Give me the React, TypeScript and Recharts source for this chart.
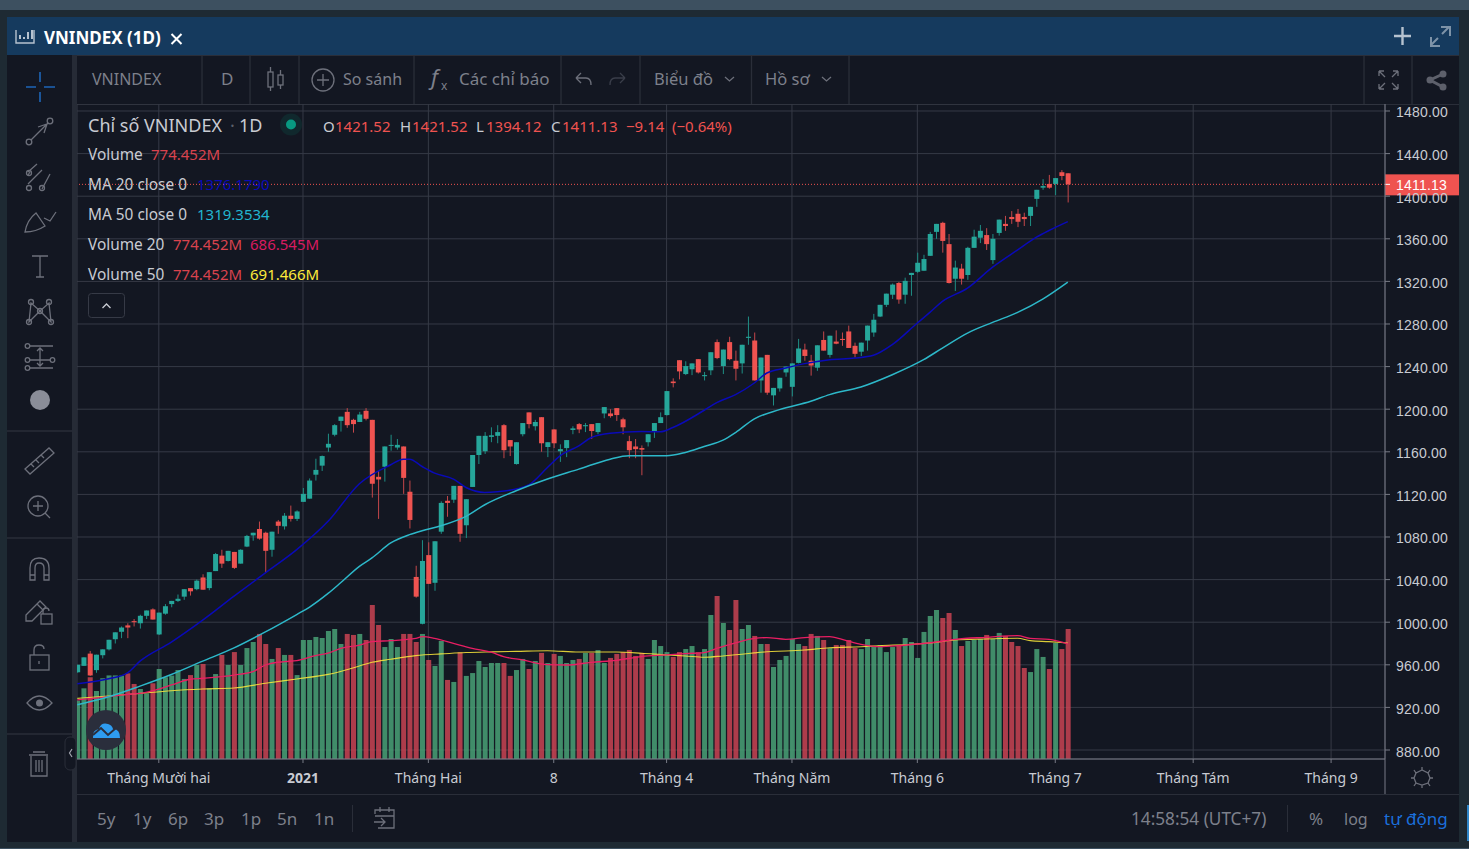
import React from 'react';
import {
  Bar,
  CartesianGrid,
  Cell,
  ComposedChart,
  Line,
  ReferenceLine,
  XAxis,
  YAxis,
} from 'recharts';

const UP = '#26a69a';
const DOWN = '#ef5350';
const UP_WICK = '#1f8f85';
const DOWN_WICK = '#c4474a';
const BG = '#131722';
const GRID = '#363a46';
const AXIS = '#787b86';
const MUTED = '#7d808b';
const LABEL = '#c8cbd2';
const FONT = '"Noto Sans", sans-serif';

const opens = [
  953, 959, 970.5, 955, 969, 974.5, 984, 991, 997, 1001,
  999, 1006, 1012, 988.5, 1008, 1017, 1020, 1024, 1032, 1031,
  1042, 1032, 1048, 1062.5, 1057.5, 1066, 1055, 1071, 1081.5, 1087.5,
  1084, 1068, 1094.5, 1090, 1100, 1097, 1113, 1116, 1138.5, 1147,
  1164, 1176, 1189, 1197.5, 1190, 1188, 1198.5, 1190, 1136.5, 1146,
  1166, 1164, 1165, 1122.5, 1042.5, 998.5, 1063, 1037, 1085, 1114,
  1115, 1128, 1091, 1127, 1157, 1160.5, 1174, 1175, 1185, 1171,
  1148.5, 1176.5, 1197, 1184, 1192.5, 1164.5, 1181, 1160.5, 1163.5, 1180.5,
  1186, 1184, 1186, 1178.5, 1196, 1196, 1201, 1190.5, 1170, 1165,
  1163.5, 1169, 1179.5, 1187, 1194.5, 1226, 1246, 1233, 1237.5, 1247,
  1231, 1236.5, 1263, 1240.5, 1263, 1245.5, 1243, 1267, 1264.5, 1227,
  1251, 1213, 1219.5, 1234.5, 1221, 1243.5, 1256, 1245.5, 1239, 1265,
  1251, 1263.5, 1266, 1273, 1259.5, 1254, 1264.5, 1272, 1287, 1298,
  1307.5, 1318.5, 1307.5, 1326, 1329, 1330, 1344, 1366.5, 1375, 1355,
  1322.5, 1332, 1326, 1351.5, 1361, 1363.5, 1340, 1365.5, 1374, 1380.5,
  1383.5, 1380.5, 1381.5, 1397.5, 1408, 1411.5, 1411.5, 1422.5, 1421.52,
];

const highs = [
  960, 967, 973, 969.5, 974.5, 983.5, 990.5, 996, 999, 1003,
  1007, 1011, 1013, 1009, 1017, 1020, 1026, 1031, 1032, 1040,
  1045, 1047, 1065, 1068, 1067, 1066, 1068.5, 1082, 1084, 1094.5,
  1085, 1085, 1096, 1102.5, 1109.5, 1105, 1126, 1135, 1153.5, 1156.5,
  1177, 1186, 1193, 1201, 1191, 1197.5, 1201, 1190, 1142, 1165,
  1176, 1172, 1165, 1133, 1053, 1077, 1075, 1076, 1113.5, 1118.5,
  1128, 1128, 1115.5, 1157, 1175, 1178.5, 1183, 1185, 1186, 1171,
  1169, 1187, 1197, 1190, 1192.5, 1169, 1181, 1167, 1171, 1184,
  1187, 1187, 1186, 1187, 1202, 1200, 1201, 1192, 1175, 1172,
  1166, 1176.5, 1187, 1197, 1217, 1229, 1246, 1245, 1243, 1247,
  1235, 1253.5, 1265.5, 1256, 1268, 1255, 1260.5, 1287, 1272, 1248.5,
  1251, 1220, 1229.5, 1240, 1243, 1266, 1261.5, 1251, 1260, 1273,
  1269, 1274, 1272, 1278.5, 1262.5, 1262.5, 1278.5, 1289.5, 1298, 1308.5,
  1318, 1319.5, 1323.5, 1328, 1347, 1345, 1366.5, 1374, 1376, 1364.5,
  1339.5, 1336.5, 1352.5, 1368.5, 1373, 1370, 1364.5, 1378, 1381.5, 1386,
  1388, 1384.5, 1390, 1406, 1416, 1420, 1417, 1424.5, 1421.52,
];

const lows = [
  952.5, 959, 949.5, 952.5, 966, 973.5, 980, 985, 985, 996,
  994, 1003, 1002.5, 988, 1007, 1014, 1019, 1021, 1025, 1030,
  1030.5, 1030, 1048, 1051, 1057, 1050, 1055, 1070.5, 1076.5, 1077.5,
  1046.5, 1061.5, 1083, 1087, 1094.5, 1095, 1113, 1116, 1133, 1142,
  1160, 1174.5, 1179, 1182.5, 1178, 1188, 1189.5, 1117, 1097, 1132,
  1161, 1162, 1120.5, 1088, 1023, 998, 1036, 1029.5, 1083, 1099,
  1112, 1075.5, 1079, 1127, 1148.5, 1158, 1169, 1168, 1154, 1156,
  1148, 1174.5, 1182, 1180, 1160, 1155, 1163.5, 1150.5, 1155, 1176.5,
  1177.5, 1178.5, 1172, 1176.5, 1191.5, 1192, 1189, 1176.5, 1154, 1154,
  1138, 1165, 1173, 1187, 1194, 1220.5, 1228, 1232, 1232, 1233.5,
  1227, 1232, 1247, 1233, 1246, 1227, 1233.5, 1260.5, 1227, 1215.5,
  1213.5, 1203.5, 1216.5, 1230.5, 1212, 1243, 1245.5, 1231.5, 1236, 1255,
  1248.5, 1261, 1259.5, 1257.5, 1248.5, 1250, 1255, 1268, 1286.5, 1296,
  1303.5, 1299, 1299, 1306.5, 1328, 1330, 1344, 1360, 1347, 1318,
  1311, 1317, 1321.5, 1351.5, 1356, 1349.5, 1336.5, 1363, 1367.5, 1374,
  1371, 1372, 1372, 1390, 1406, 1407, 1401, 1415, 1394.12,
];

const closes = [
  960, 967, 950, 969.5, 974.5, 983.5, 990.5, 995, 995, 1000,
  1006, 1011, 1002.5, 1009, 1015, 1020, 1022, 1031, 1029, 1039,
  1030.5, 1047, 1064, 1055, 1067, 1051, 1068, 1081, 1084, 1078.5,
  1067, 1085, 1090.5, 1100, 1097, 1104, 1120.5, 1133, 1143, 1156,
  1167.5, 1185, 1193, 1185, 1186, 1195, 1191, 1130, 1134, 1165,
  1166.5, 1166.5, 1135.5, 1096, 1024, 1057.5, 1036, 1076, 1112, 1112,
  1128, 1083, 1115.5, 1157, 1175, 1175, 1175.5, 1178.5, 1161.5, 1165,
  1169, 1187, 1186, 1188, 1168, 1169, 1168, 1162.5, 1171, 1182,
  1181, 1185, 1179.5, 1187, 1202, 1193.5, 1194.5, 1183, 1161.5, 1162.5,
  1162, 1176.5, 1187, 1192.5, 1217, 1224.5, 1235.5, 1240.5, 1243, 1234.5,
  1232, 1253.5, 1248, 1256, 1247, 1238, 1260.5, 1268, 1227, 1248.5,
  1215.5, 1220, 1229.5, 1240, 1243, 1257, 1250, 1241, 1260, 1255,
  1269, 1261.5, 1265, 1257.5, 1252, 1262.5, 1278.5, 1284, 1298, 1308.5,
  1317, 1303, 1320.5, 1328, 1337.5, 1341, 1364.5, 1374, 1358, 1318.5,
  1333, 1322.5, 1351.5, 1362, 1367.5, 1355, 1360, 1378, 1372, 1378.5,
  1376, 1378.5, 1390, 1406, 1409.5, 1408, 1417, 1419, 1411.13,
];

// volume in millions
const volumes = [
  348, 421, 487, 405, 481, 498, 498, 497, 510, 447,
  417, 391, 451, 536, 487, 497, 530, 477, 500, 560,
  566, 421, 506, 620, 560, 637, 560, 661, 697, 745,
  685, 596, 661, 620, 620, 500, 709, 709, 727, 721,
  763, 775, 685, 745, 739, 745, 709, 918, 798, 667,
  715, 667, 745, 745, 697, 745, 590, 554, 703, 471,
  459, 636, 495, 512, 584, 548, 572, 572, 572, 495,
  530, 596, 536, 584, 632, 572, 626, 614, 572, 590,
  596, 632, 632, 649, 572, 602, 626, 637, 649, 614,
  632, 596, 709, 673, 637, 608, 637, 655, 673, 637,
  655, 858, 971, 810, 769, 947, 775, 798, 733, 685,
  685, 548, 590, 614, 715, 685, 673, 745, 733, 709,
  661, 679, 679, 709, 661, 655, 715, 673, 679, 637,
  667, 679, 721, 697, 602, 757, 852, 888, 840, 870,
  769, 673, 703, 709, 715, 739, 715, 751, 733, 697,
  673, 542, 518, 655, 608, 536, 691, 655, 774.452,
];

const ma20Points = [
  [0, 942.2], [5, 946.9], [8, 952.5], [10, 963.4], [15, 981.3], [20, 1001.9], [25, 1024.4],
  [30, 1046.3], [35, 1068.1], [40, 1094.7], [45, 1130], [50, 1147.8], [52, 1153.1], [53, 1153.1],
  [55, 1146.2], [57, 1140], [60, 1134.4], [62, 1126.5], [65, 1121.9], [67, 1122.5], [70, 1125],
  [72, 1128.8], [75, 1145.3], [77, 1156.2], [80, 1165.6], [82, 1173.4], [85, 1177.5], [90, 1179],
  [93, 1178.8], [95, 1182.8], [100, 1199], [102, 1206.2], [105, 1213.7], [108, 1224.6], [110, 1234],
  [113, 1238.7], [116, 1242.8], [120, 1246.5], [124, 1248], [127, 1250.6], [130, 1260.6], [134, 1280.9],
  [136, 1290.9], [138, 1301.2], [142, 1313.7], [146, 1333.4], [150, 1349.6], [153, 1361.5], [155, 1367.8],
  [158, 1376.18],
];

const ma50Points = [
  [0, 922.5], [5, 930], [10, 940], [15, 950.9], [20, 963.4], [25, 975.9], [30, 990.9], [35, 1007.2],
  [37, 1014], [40, 1027], [42, 1037], [45, 1052.5], [47, 1060.3], [50, 1074.4], [53, 1082.2],
  [55, 1085.9], [58, 1090.6], [62, 1099.4], [65, 1110.3], [70, 1123.4], [75, 1134.4], [80, 1143.7],
  [85, 1153.1], [88, 1156.2], [94, 1156.2], [97, 1159.4], [100, 1165], [103, 1170.9], [105, 1178.1],
  [108, 1190.9], [112, 1199.6], [117, 1207.4], [120, 1213.7], [125, 1220.9], [130, 1232.4], [135, 1246.5],
  [138, 1257.4], [142, 1271.5], [146, 1281.5], [150, 1290.9], [154, 1303.4], [158, 1319.35],
];

const volMa20Points = [
  [0, 352], [5, 371], [8, 385], [10, 391], [13, 417], [15, 441], [18, 475], [20, 481], [25, 500],
  [28, 520], [30, 560], [33, 580], [35, 586], [38, 616], [40, 630], [42, 659], [45, 679], [47, 699],
  [50, 705], [54, 719], [55, 729], [57, 719], [60, 689], [63, 659], [66, 636], [68, 610], [71, 590],
  [75, 562], [78, 560], [82, 576], [86, 588], [90, 610], [94, 620], [97, 628], [100, 634], [102, 659],
  [105, 692], [108, 719], [110, 723], [113, 713], [116, 723], [120, 729], [122, 713], [125, 683],
  [128, 669], [131, 675], [134, 685], [137, 697], [140, 713], [145, 725], [150, 735], [152, 719],
  [155, 713], [158, 686.545],
];

const volMa50Points = [
  [0, 361], [5, 375], [10, 391], [15, 407], [20, 417], [25, 423], [30, 451], [35, 477], [40, 504],
  [45, 554], [47, 576], [50, 594], [54, 616], [55, 620], [58, 626], [62, 634], [66, 638], [70, 641],
  [75, 645], [80, 637], [86, 637], [90, 630], [94, 620], [97, 614], [100, 606], [103, 614], [106, 624],
  [108, 632], [110, 639], [113, 643], [116, 649], [120, 663], [125, 669], [128, 675], [133, 683],
  [137, 695], [140, 709], [145, 715], [150, 719], [152, 705], [155, 699], [158, 691.466],
];

const priceTicks = [
  880, 920, 960, 1000, 1040, 1080, 1120, 1160, 1200, 1240, 1280, 1320, 1360, 1400, 1440, 1480,
];
const monthTicks = [13, 36, 56, 76, 94, 114, 134, 156, 178, 200];
const monthLabels = [
  'Tháng Mười hai', '2021', 'Tháng Hai', '8', 'Tháng 4', 'Tháng Năm', 'Tháng 6', 'Tháng 7', 'Tháng Tám', 'Tháng 9',
];
const lastClose = 1411.13;

const pick = (points: number[][], i: number) => {
  const hit = points.find((p) => p[0] === i);
  return hit ? hit[1] : null;
};

const rows = opens.map((open, i) => ({
  i,
  open,
  high: highs[i],
  low: lows[i],
  close: closes[i],
  range: [lows[i], highs[i]],
  volume: volumes[i],
  ma20: pick(ma20Points, i),
  ma50: pick(ma50Points, i),
  volMa20: pick(volMa20Points, i),
  volMa50: pick(volMa50Points, i),
}));

// wick and body are placed from the bar rectangle that spans low..high
function Candle(props: any) {
  const { x, y, width, height, payload } = props;
  const { open, close, high, low } = payload;
  const up = close >= open;
  const perPoint = height / Math.max(high - low, 0.01);
  const top = y + (high - Math.max(open, close)) * perPoint;
  const bodyH = Math.max(Math.abs(open - close) * perPoint, 1);
  const mid = x + width / 2;
  return (
    <g>
      <line x1={mid} x2={mid} y1={y} y2={y + height} stroke={up ? UP_WICK : DOWN_WICK} strokeWidth={1} />
      <rect x={x} y={top} width={width} height={bodyH} fill={up ? UP : DOWN} />
    </g>
  );
}

function PriceTick(props: any) {
  const { x, y, payload } = props;
  return (
    <text x={x} y={y + 6.5} fill={LABEL} fontSize={14} letterSpacing={0.2} fontFamily='"Liberation Sans", sans-serif'>
      {payload.value.toFixed(2)}
    </text>
  );
}

function MonthTick(props: any) {
  const { x, y, payload } = props;
  const label = monthLabels[monthTicks.indexOf(payload.value)];
  return (
    <text
      x={x}
      y={y + 17}
      fill={LABEL}
      fontSize={14}
      fontWeight={label === '2021' ? 700 : 400}
      fontFamily={FONT}
      textAnchor="middle"
    >
      {label}
    </text>
  );
}

function LastPriceTag(props: any) {
  const { viewBox } = props;
  const right = viewBox.x + viewBox.width;
  const mid = viewBox.y;
  return (
    <g>
      <rect x={right} y={mid - 10} width={74} height={21} fill={DOWN} />
      <line x1={right} x2={right + 5} y1={mid} y2={mid} stroke="#fff" />
      <text x={right + 11} y={mid + 5.5} fill="#fff" fontSize={14} fontWeight={500} letterSpacing={0.2} fontFamily='"Liberation Sans", sans-serif'>
        {lastClose.toFixed(2)}
      </text>
    </g>
  );
}

function Chart() {
  const xDomain = [-0.05, 208.6];
  return (
    <ComposedChart
      width={1382}
      height={691}
      data={rows}
      margin={{ top: 0, right: 0, bottom: 0, left: 0 }}
      style={{ position: 'absolute', left: 77, top: 104 }}
    >
      <CartesianGrid yAxisId="price" stroke={GRID} strokeWidth={1} />
      <XAxis
        dataKey="i"
        type="number"
        domain={xDomain}
        allowDataOverflow
        ticks={monthTicks}
        interval={0}
        height={36}
        tickSize={4}
        tickMargin={3}
        stroke={AXIS}
        tick={MonthTick}
      />
      <XAxis xAxisId="vol" dataKey="i" type="number" domain={xDomain} allowDataOverflow hide />
      <YAxis
        yAxisId="price"
        orientation="right"
        domain={[871.55, 1486.57]}
        allowDataOverflow
        ticks={priceTicks}
        interval={0}
        width={74}
        tickSize={5}
        tickMargin={6}
        stroke={AXIS}
        tick={PriceTick}
      />
      <YAxis yAxisId="volume" domain={[0, 3902]} allowDataOverflow hide />
      <Bar xAxisId="vol" yAxisId="volume" dataKey="volume" barSize={5} isAnimationActive={false}>
        {rows.map((r) => (
          <Cell key={r.i} fill={r.close >= r.open ? '#49a176' : '#c94352'} fillOpacity={0.85} />
        ))}
      </Bar>
      <Line xAxisId="vol" yAxisId="volume" dataKey="volMa50" stroke="#ffeb3b" strokeOpacity={0.85} strokeWidth={1.1} dot={false} connectNulls type="monotone" isAnimationActive={false} />
      <Line xAxisId="vol" yAxisId="volume" dataKey="volMa20" stroke="#e91e63" strokeWidth={1.3} dot={false} connectNulls type="monotone" isAnimationActive={false} />
      <Bar yAxisId="price" dataKey="range" barSize={5} shape={Candle} isAnimationActive={false} />
      <Line yAxisId="price" dataKey="ma20" stroke="#0a0ab8" strokeWidth={1.5} dot={false} connectNulls type="monotone" isAnimationActive={false} />
      <Line yAxisId="price" dataKey="ma50" stroke="#2db8c9" strokeWidth={1.5} dot={false} connectNulls type="monotone" isAnimationActive={false} />
      <ReferenceLine
        yAxisId="price"
        y={lastClose}
        stroke={DOWN}
        strokeDasharray="1 2"
        label={LastPriceTag}
      />
    </ComposedChart>
  );
}

const T = (p: any) => <text fontFamily={FONT} {...p} />;

// everything around the plot: window frame, toolbars and legend
function Chrome() {
  const icon = { fill: 'none', stroke: '#6d707b', strokeWidth: 1.3 };
  return (
    <svg width={1469} height={849} style={{ position: 'absolute', left: 0, top: 0, pointerEvents: 'none' }}>
      {/* header */}
      <g fill="none" stroke="#b6c2cf" strokeWidth={1.4}>
        <path d="M16 30 V43 H34 V30" />
        <path d="M20 39 V35 M24 39 V37 M28 39 V32 M32 39 V30" strokeWidth={2} />
      </g>
      <T x={44} y={44} fill="#fff" fontSize={17} fontWeight={700}>VNINDEX (1D)</T>
      <path d="M171.5 34 L181.5 44 M181.5 34 L171.5 44" stroke="#fff" strokeWidth={2} />
      <path d="M1394 36 H1411 M1402.5 27 V45" stroke="#b6c2cf" strokeWidth={2.4} />
      <path d="M1431 45 L1438 38 M1442 34 L1449 27 M1441 27 H1450 V36 M1431 37 V46 H1440" stroke="#7e93a8" strokeWidth={2} fill="none" />

      {/* top toolbar */}
      <path
        d="M202 56 V104 M250 56 V104 M299 56 V104 M414 56 V104 M561 56 V104 M640 56 V104 M751.5 56 V104 M849 56 V104 M1364 56 V104 M1412 56 V104"
        stroke="#2a2e39"
        strokeWidth={1.3}
      />
      <T x={92} y={85} fill={MUTED} fontSize={16}>VNINDEX</T>
      <T x={221} y={85} fill={MUTED} fontSize={17}>D</T>
      <g {...icon}>
        <rect x={268} y={72} width={5} height={15} />
        <path d="M270.5 67 V72 M270.5 87 V91" />
        <rect x={278} y={75} width={5} height={10} />
        <path d="M280.5 70 V75 M280.5 85 V89" />
        <circle cx={323} cy={80} r={11} />
        <path d="M323 74 V86 M317 80 H329" />
      </g>
      <T x={343} y={85} fill={MUTED} fontSize={16}>So sánh</T>
      <T x={431} y={85} fill={MUTED} fontSize={22} fontStyle="italic">f</T>
      <T x={441} y={90} fill={MUTED} fontSize={12}>x</T>
      <T x={459} y={85} fill={MUTED} fontSize={17}>Các chỉ báo</T>
      <g {...icon}>
        <path d="M576 78 L581 73 M576 78 L581 83 M576 78 H586 Q591 78 591 85" />
        <path d="M625 78 L620 73 M625 78 L620 83 M625 78 H615 Q610 78 610 85" stroke="#3a3e4a" />
      </g>
      <T x={654} y={85} fill={MUTED} fontSize={16.5}>Biểu đồ</T>
      <path d="M725 77 L729.5 81 L734 77" {...icon} />
      <T x={765} y={85} fill={MUTED} fontSize={16.5}>Hồ sơ</T>
      <path d="M822 77 L826.5 81 L831 77" {...icon} />
      <g {...icon}>
        <path d="M1379 71 L1385 77 M1379 71 H1384 M1379 71 V76 M1398 71 L1392 77 M1398 71 H1393 M1398 71 V76 M1379 89 L1385 83 M1379 89 H1384 M1379 89 V84 M1398 89 L1392 83 M1398 89 H1393 M1398 89 V84" />
      </g>
      <path d="M1443 74 L1430 80 L1443 87" fill="none" stroke="#5d606b" strokeWidth={3} />
      <g fill="#5d606b">
        <circle cx={1443} cy={74} r={3.5} />
        <circle cx={1430} cy={80} r={3.5} />
        <circle cx={1443} cy={87} r={3.5} />
      </g>

      {/* left toolbar */}
      <path d="M26 87 H36 M44 87 H55 M40 72 V82 M40 92 V102" stroke="#1e66b8" strokeWidth={1.6} />
      <g {...icon}>
        <circle cx={29} cy={142} r={2.8} />
        <circle cx={50} cy={121} r={2.8} />
        <path d="M31 140 L48 123 M38 127 L47 124 L44 133" />
        <path d="M37 164 L28 172 M50 174 L42 189 M28 184 L42 170 M28 175 L30 172" />
        <circle cx={29} cy={173} r={2.5} />
        <circle cx={29} cy={188} r={2.5} />
        <circle cx={42} cy={188} r={2.5} />
        <path d="M25 232 Q27 220 36 213 L45 226 Q36 232 25 232 Z M44 218 L50 221 L56 212" />
        <path d="M32 256 H48 M40 256 V277 M36 277 H44" />
        <path d="M31 303 L40 311 L49 303 L51 322 L40 311 L29 322 Z" />
        <circle cx={31} cy={302} r={2.5} />
        <circle cx={49} cy={302} r={2.5} />
        <circle cx={40} cy={311} r={2.5} />
        <circle cx={29} cy={322} r={2.5} />
        <circle cx={51} cy={322} r={2.5} />
        <circle cx={27.5} cy={346} r={2.3} />
        <circle cx={27.5} cy={360} r={2.3} />
        <circle cx={27.5} cy={368} r={2.3} />
        <circle cx={52.5} cy={360} r={2.3} />
        <path d="M30 346 H53 M30 360 H50 M30 368 H53 M40 349 V366 M37 351 L40 348 L43 351 M37 363 L40 366 L43 363" />
        <path d="M25 469 L49 448 L54 453 L30 474 Z M31 464 L34 467 M36 460 L39 463 M41 455 L44 458" />
        <circle cx={38} cy={506} r={10} />
        <path d="M38 501 V511 M33 506 H43 M45 513 L50 518" />
        <path d="M30 580 V568 Q30 558 39 558 Q49 558 49 568 V580 H44 V568 Q44 563 39 563 Q35 563 35 568 V580 Z M30 575 H35 M44 575 H49" />
        <path d="M26 615 L40 601 L46 607 L32 621 L26 621 Z M37 604 L43 610" />
        <rect x={41} y={614} width={11} height={10} />
        <path d="M43 614 V611 Q43 608 46 608 Q49 608 49 611" />
        <rect x={30} y={655} width={19} height={15} />
        <path d="M34 655 V650 Q34 645 39 645 Q44 645 44 649 M39 661 V664" />
        <path d="M27 703 Q39 689 52 703 Q39 717 27 703 Z" />
        <path d="M31 756 V776 H47 V756 M29 755 H48 M33 752 H45 M36 760 V772 M39 760 V772 M42 760 V772" />
        <path d="M1422 770 L1416 773 L1414 778 L1416 783 L1422 785 L1428 783 L1430 778 L1428 773 Z M1422 767 V770 M1422 785 V788 M1411 778 H1414 M1430 778 H1433 M1414 770 L1416 773 M1430 770 L1428 773 M1414 786 L1416 783 M1430 786 L1428 783" />
      </g>
      <circle cx={39.5} cy={703} r={3.5} fill="#6d707b" />
      <circle cx={40} cy={400} r={10} fill="#8a8d98" />
      <path d="M7 431 H72 M7 538 H72 M7 734 H72" stroke="#2a2e39" strokeWidth={1.3} />
      <rect x={65} y={737} width={11} height={33} rx={5} fill="#131722" stroke="#2a2e39" />
      <path d="M72 749 L69.5 753 L72 757" stroke="#a0a3ad" fill="none" strokeWidth={1.2} />

      {/* legend */}
      <T x={88} y={132} fill={LABEL} fontSize={18}>Chỉ số VNINDEX</T>
      <T x={230} y={132} fill="#5d606b" fontSize={18}>·</T>
      <T x={239} y={132} fill={LABEL} fontSize={18}>1D</T>
      <circle cx={291} cy={124.5} r={11} fill="#0d3a38" opacity={0.5} />
      <circle cx={291} cy={124.5} r={5} fill="#089981" />
      <g fontSize={15}>
        <T x={323} y={131.5} fill={LABEL}>O</T>
        <T x={335} y={131.5} fill={DOWN}>1421.52</T>
        <T x={400} y={131.5} fill={LABEL}>H</T>
        <T x={412} y={131.5} fill={DOWN}>1421.52</T>
        <T x={476} y={131.5} fill={LABEL}>L</T>
        <T x={486} y={131.5} fill={DOWN}>1394.12</T>
        <T x={551} y={131.5} fill={LABEL}>C</T>
        <T x={562} y={131.5} fill={DOWN}>1411.13</T>
        <T x={626} y={131.5} fill={DOWN}>−9.14</T>
        <T x={672} y={131.5} fill={DOWN}>(−0.64%)</T>
      </g>
      <g fontSize={15}>
        <T x={88} y={160} fill={LABEL} fontSize={15.4}>Volume</T>
        <T x={151} y={160} fill="#d9434e">774.452M</T>
        <T x={88} y={190} fill={LABEL} fontSize={15.4}>MA 20 close 0</T>
        <T x={197} y={190} fill="#0a0ab8">1376.1790</T>
        <T x={88} y={220} fill={LABEL} fontSize={15.4}>MA 50 close 0</T>
        <T x={197} y={220} fill="#22b5d0">1319.3534</T>
        <T x={88} y={250} fill={LABEL} fontSize={15.4}>Volume 20</T>
        <T x={173} y={250} fill="#d9434e">774.452M</T>
        <T x={250} y={250} fill="#d81b60">686.545M</T>
        <T x={88} y={280} fill={LABEL} fontSize={15.4}>Volume 50</T>
        <T x={173} y={280} fill="#d9434e">774.452M</T>
        <T x={250} y={280} fill="#ffeb3b">691.466M</T>
      </g>
      <rect x={88.5} y={293.5} width={36} height={24} rx={3} fill={BG} stroke="#363a46" />
      <path d="M102.5 308 L106.5 304 L110.5 308" fill="none" stroke={LABEL} strokeWidth={1.3} />

      {/* badge */}
      <circle cx={106} cy={730} r={20} fill="#2a2e3c" />
      <path d="M93 738 Q92 730 99 729 Q101 722 108 724 Q112 725 113 729 Q120 729 120 738 Z" fill="#2e9cf0" />
      <path d="M93 735 L101 728 L108 735 L116 728" fill="none" stroke="#2a2e3c" strokeWidth={2} />

      {/* bottom bar */}
      <path d="M1385 759 V794" stroke={AXIS} strokeWidth={1} />
      <g fontSize={17} fill={MUTED}>
        <T x={97} y={825}>5y</T>
        <T x={133} y={825}>1y</T>
        <T x={168} y={825}>6p</T>
        <T x={204} y={825}>3p</T>
        <T x={241} y={825}>1p</T>
        <T x={277} y={825}>5n</T>
        <T x={314} y={825}>1n</T>
        <T x={1131} y={825} fontSize={17.2}>14:58:54 (UTC+7)</T>
        <T x={1309} y={825}>%</T>
        <T x={1344} y={825} fontSize={16}>log</T>
      </g>
      <T x={1384} y={825} fill="#1b6fdc" fontSize={17}>tự động</T>
      <path d="M352.5 805 V832 M1287.5 805 V832" stroke="#2a2e39" />
      <g {...icon}>
        <path d="M375 814 V810 H394 V828 H378 M375 816 H394 M380 807 V812 M389 807 V812 M374 822 H385 M381 818 L385 822 L381 826" />
      </g>
    </svg>
  );
}

export default function App() {
  const box = (left: number, top: number, width: number, height: number, background: string): React.CSSProperties => ({
    position: 'absolute',
    left,
    top,
    width,
    height,
    background,
  });
  return (
    <div style={{ position: 'fixed', left: 0, top: 0, width: 1469, height: 849, overflow: 'hidden', background: '#1e2a33' }}>
      <div style={box(0, 0, 1469, 10, '#3d5060')} />
      <div style={box(7, 17, 1452, 38, '#153a5e')} />
      <div style={box(7, 55, 1452, 787, BG)} />
      <div style={box(72, 55, 5, 787, '#262b36')} />
      <div style={box(77, 55, 1382, 1, '#2a2e39')} />
      <div style={box(77, 104, 1382, 1, '#2a2e39')} />
      <div style={box(77, 794, 1382, 1, '#2a2e39')} />
      <div style={box(0, 848, 1469, 1, '#3d5060')} />
      <div style={box(1467, 805, 2, 36, '#2f86c9')} />
      <Chart />
      <Chrome />
    </div>
  );
}
